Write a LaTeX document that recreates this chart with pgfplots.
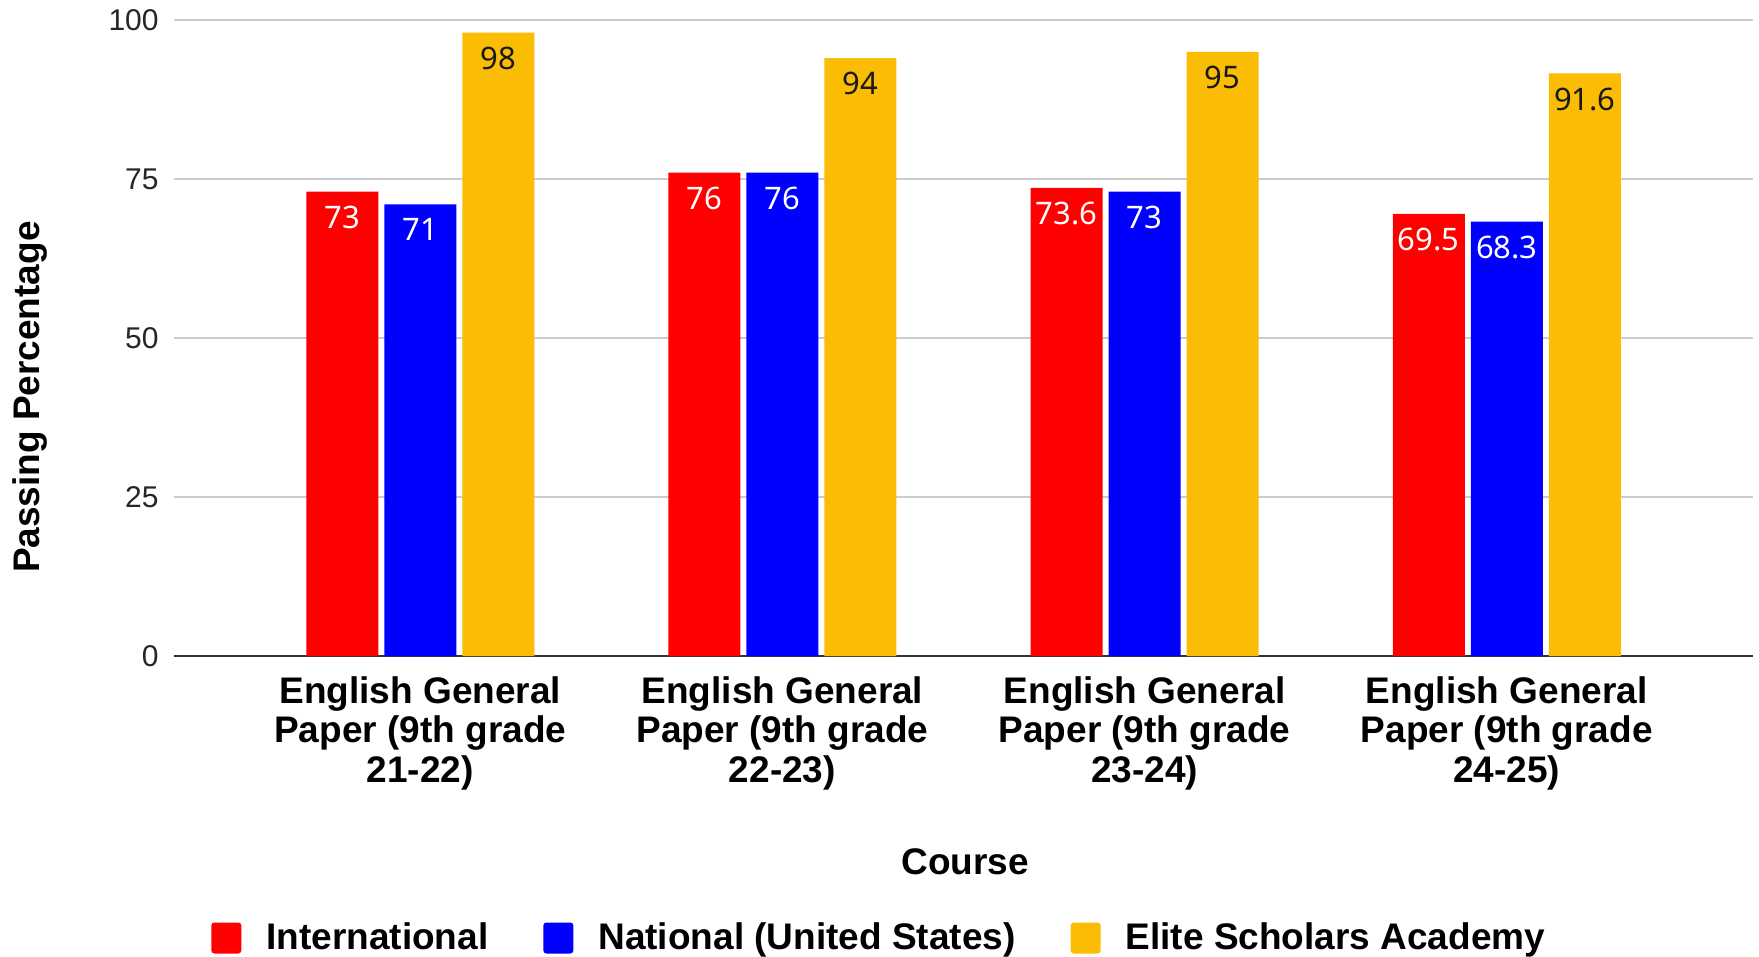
\documentclass[border=0pt]{standalone}
\usepackage{pgfplots}
\pgfplotsset{compat=1.18}
\usepackage{fontspec}
\setmainfont{Liberation Sans}
\newfontfamily\valfont{Noto Sans}

\definecolor{cRed}{HTML}{FF0000}
\definecolor{cBlue}{HTML}{0000FF}
\definecolor{cYel}{HTML}{FBBC04}
\definecolor{gridc}{HTML}{CCCCCC}

\pgfplotsset{
  sqlegend/.style={legend image code/.code={\fill[##1, rounded corners=1.5pt] (0pt,-7.75pt) rectangle (15pt,7.75pt);}},
}

\begin{document}
\begin{tikzpicture}
\begin{axis}[
  name=ax,
  scale only axis,
  width=789.5pt, height=318pt,
  ybar=3pt, bar width=36pt,
  xmin=-0.68, xmax=3.68,
  ymin=0, ymax=100,
  xtick={0,1,2,3},
  xticklabels={{English General\\Paper (9th grade\\21-22)},
               {English General\\Paper (9th grade\\22-23)},
               {English General\\Paper (9th grade\\23-24)},
               {English General\\Paper (9th grade\\24-25)}},
  xticklabel style={align=center, font=\bfseries\fontsize{18.5}{19.75}\selectfont,
                    anchor=north, inner sep=0pt, yshift=-10pt},
  ytick={25,50,75,100},
  extra y ticks={0},
  extra y tick labels={0},
  extra y tick style={major grid style={draw=black!80, line width=1.2pt}},
  ymajorgrids,
  major grid style={draw=gridc, line width=1pt},
  axis line style={draw=none},
  major tick length=0pt,
  /pgf/number format/assume math mode=true,
  yticklabel style={font=\fontsize{15}{18}\selectfont, text=black!85,
                    anchor=east, inner sep=0pt, xshift=-7.5pt},
  ylabel={Passing Percentage},
  ylabel style={at={(axis description cs:-0.0912,0.407)}, anchor=center,
                font=\bfseries\fontsize{18.5}{20}\selectfont},
  xlabel={Course},
  xlabel style={at={(axis description cs:0.501,-0.3239)}, anchor=center,
                font=\bfseries\fontsize{18.5}{20}\selectfont},
  legend style={at={(axis description cs:0.0234,-0.4434)}, anchor=west,
                draw=none, inner sep=0pt, nodes={inner sep=0pt},
                font=\bfseries\fontsize{18.5}{20}\selectfont,
                /tikz/every odd column/.append style={column sep=12.5pt},
                /tikz/every even column/.append style={column sep=27.5pt}},
  legend columns=-1,
  nodes near coords,
  nodes near coords align={below},
  every node near coord/.append style={yshift=-7pt, inner sep=0pt,
                font=\valfont\fontsize{15.5}{16}\selectfont},
]
\addplot[fill=cRed, draw=none, sqlegend,
  every node near coord/.append style={text=white}]
  coordinates {(0,73) (1,76) (2,73.6) (3,69.5)};
\addplot[fill=cBlue, draw=none, sqlegend,
  every node near coord/.append style={text=white}]
  coordinates {(0,71) (1,76) (2,73) (3,68.3)};
\addplot[fill=cYel, draw=none, sqlegend,
  every node near coord/.append style={text=black!90}]
  coordinates {(0,98) (1,94) (2,95) (3,91.6)};
\legend{International, National (United States), Elite Scholars Academy}
\end{axis}
\pgfresetboundingbox
\path[use as bounding box] ([shift={(-87pt,-150.5pt)}]ax.south west)
  rectangle ([shift={(792.5pt,328pt)}]ax.south west);
\end{tikzpicture}
\end{document}
